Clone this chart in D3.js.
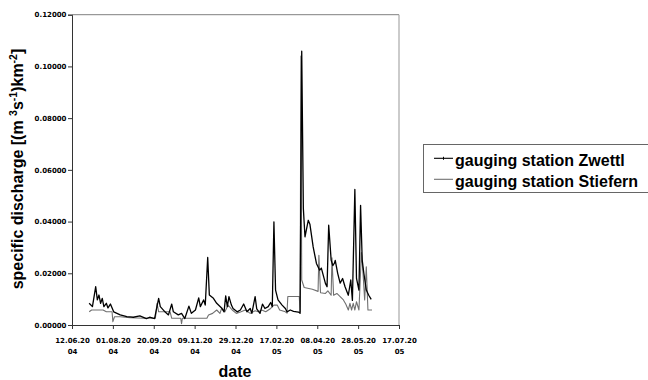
<!DOCTYPE html>
<html>
<head>
<meta charset="utf-8">
<script src="https://cdn.jsdelivr.net/npm/d3@7"></script>
<style>
  html, body { margin: 0; padding: 0; background: #fff; }
  svg { display: block; }
</style>
</head>
<body>
<svg id="chart" width="648" height="380"></svg>
<script>
// ---- data (day number counted from 12.06.2004, specific discharge m3 s-1 km-2) ----
const startDate = "2004-06-12";
const endDate = "2005-07-17";

const zwettlDay = [21,25,29,31,33,35,37,39,42,44,47,51,59,67,75,83,91,95,101,106,108,114,118,122,124,130,134,138,143,146,151,155,157,161,163,166,168,173,177,183,186,188,190,192,195,197,202,206,210,214,218,220,224,226,230,233,236,240,243,245,247,249,252,257,261,263,267,271,277,279,281,283,285,289,291,295,299,303,305,310,312,314,317,319,321,322,325,328,331,334,338,341,343,346,348,351,353,355,357,360,363,366];
const zwettlQ = [0.0084,0.0071,0.0148,0.0097,0.0116,0.0084,0.0103,0.0071,0.0084,0.0066,0.0081,0.0051,0.0039,0.0032,0.0030,0.0035,0.0025,0.0030,0.0025,0.0103,0.0071,0.0050,0.0039,0.0081,0.0051,0.0039,0.0045,0.0025,0.0073,0.0045,0.0058,0.0105,0.0071,0.0097,0.0077,0.0261,0.0116,0.0103,0.0084,0.0066,0.0051,0.0113,0.0071,0.0110,0.0077,0.0064,0.0051,0.0058,0.0081,0.0051,0.0064,0.0045,0.0110,0.0062,0.0045,0.0081,0.0064,0.0071,0.0087,0.0071,0.0399,0.0135,0.0097,0.0077,0.0064,0.0051,0.0058,0.0053,0.0050,0.0045,0.1059,0.0450,0.0341,0.0405,0.0390,0.0302,0.0238,0.0212,0.0220,0.0161,0.0148,0.0386,0.0251,0.0230,0.0239,0.0250,0.0200,0.0162,0.0180,0.0148,0.0115,0.0174,0.0095,0.0524,0.0180,0.0135,0.0463,0.0251,0.0200,0.0135,0.0115,0.0099];

const stiefernDay = [21,24,38,42,49,50,52,59,71,89,102,104,106,120,122,133,134,135,165,167,172,177,181,183,187,191,196,201,206,212,218,224,228,232,237,243,247,251,254,261,263,264,278,279,280,281,284,294,301,302,304,310,313,317,318,320,324,328,332,335,338,340,342,344,346,348,351,354,356,358,360,362,367];
const stiefernQ = [0.0051,0.0058,0.0058,0.0051,0.0051,0.0013,0.0032,0.0032,0.0028,0.0026,0.0026,0.0084,0.0051,0.0051,0.0026,0.0026,0.0005,0.0026,0.0026,0.0039,0.0045,0.0058,0.0045,0.0064,0.0051,0.0077,0.0058,0.0045,0.0050,0.0058,0.0045,0.0055,0.0051,0.0058,0.0051,0.0064,0.0077,0.0077,0.0058,0.0051,0.0046,0.0110,0.0110,0.0050,0.1040,0.0174,0.0145,0.0138,0.0130,0.0270,0.0125,0.0122,0.0132,0.0115,0.0260,0.0115,0.0122,0.0110,0.0097,0.0080,0.0058,0.0084,0.0058,0.0084,0.0058,0.0090,0.0058,0.0280,0.0200,0.0097,0.0225,0.0058,0.0058];

const xTickDates = ["2004-06-12","2004-08-01","2004-09-20","2004-11-09","2004-12-29","2005-02-17","2005-04-08","2005-05-28","2005-07-17"];
const yTicks = [0, 0.02, 0.04, 0.06, 0.08, 0.10, 0.12];
const seriesNames = ["gauging station Zwettl", "gauging station Stiefern"];
const seriesColors = ["#000000", "#707070"];

// ---- drawing ----
(function draw() {
const svg = d3.select("#chart");
const parse = d3.utcParse("%Y-%m-%d");
const t0 = parse(startDate);
const pLeft = 72, pRight = 399, pTop = 14.7, pBottom = 325;

const x = d3.scaleUtc().domain([t0, parse(endDate)]).range([pLeft, pRight]);
const y = d3.scaleLinear().domain([0, 0.12]).range([pBottom, pTop]);

const toPts = (days, vals) => days.map((d, i) => ({ date: d3.utcDay.offset(t0, d), v: vals[i] }));
const zwettl = toPts(zwettlDay, zwettlQ);
const stiefern = toPts(stiefernDay, stiefernQ);

// frame (top and right)
svg.append("line").attr("x1", pLeft).attr("x2", pRight).attr("y1", pTop).attr("y2", pTop)
  .attr("stroke", "#808080").attr("stroke-width", 1);
svg.append("line").attr("x1", pRight).attr("x2", pRight).attr("y1", pTop).attr("y2", pBottom)
  .attr("stroke", "#a8a8a8").attr("stroke-width", 1.2);

// series
const line = d3.line().x(d => x(d.date)).y(d => y(d.v));
svg.append("path").datum(stiefern).attr("d", line)
  .attr("fill", "none").attr("stroke", seriesColors[1]).attr("stroke-width", 1.1)
  .attr("stroke-linejoin", "round");
svg.append("path").datum(zwettl).attr("d", line)
  .attr("fill", "none").attr("stroke", seriesColors[0]).attr("stroke-width", 1.3)
  .attr("stroke-linejoin", "round");

// y axis
const yAxis = svg.append("g").attr("transform", `translate(${pLeft},0)`)
  .call(d3.axisLeft(y).tickValues(yTicks).tickFormat(d3.format(".5f")).tickSizeOuter(0).tickSize(4));
yAxis.select(".domain").attr("stroke", "#333");
yAxis.selectAll(".tick line").attr("stroke", "#333");
yAxis.selectAll("text").attr("font-family", "DejaVu Sans, sans-serif").attr("font-weight", "bold")
  .attr("font-size", 7).attr("fill", "#000").attr("x", -5.5);

// x axis
const fmt = d3.utcFormat("%d.%m.%Y");
const xAxis = svg.append("g").attr("transform", `translate(0,${pBottom})`)
  .call(d3.axisBottom(x).tickValues(xTickDates.map(parse)).tickFormat(() => "").tickSizeOuter(0).tickSize(4));
xAxis.select(".domain").attr("stroke", "#333");
xAxis.selectAll(".tick line").attr("stroke", "#333");
xAxis.selectAll(".tick text").each(function(d) {
  const s = fmt(d);
  const t = d3.select(this).text(null)
    .attr("font-family", "DejaVu Sans, sans-serif").attr("font-weight", "bold")
    .attr("font-size", 7).attr("fill", "#000").attr("y", 0).attr("dy", null);
  t.append("tspan").attr("x", 0).attr("y", 18).text(s.slice(0, 8));
  t.append("tspan").attr("x", 0).attr("y", 29).text(s.slice(8));
});

// axis titles
svg.append("text").attr("x", 235).attr("y", 377).attr("text-anchor", "middle")
  .attr("font-family", "Liberation Sans, Arial, sans-serif").attr("font-weight", "bold")
  .attr("font-size", 16).text("date");

const yt = svg.append("text").attr("transform", "translate(23,169) rotate(-90)")
  .attr("text-anchor", "middle")
  .attr("font-family", "Liberation Sans, Arial, sans-serif").attr("font-weight", "bold")
  .attr("font-size", 16);
yt.append("tspan").text("specific discharge [(m ");
yt.append("tspan").attr("dy", -6.5).attr("font-size", 10.5).text("3");
yt.append("tspan").attr("dy", 6.5).text("s");
yt.append("tspan").attr("dy", -6.5).attr("font-size", 10.5).text("-1");
yt.append("tspan").attr("dy", 6.5).text(")km");
yt.append("tspan").attr("dy", -6.5).attr("font-size", 10.5).text("-2");
yt.append("tspan").attr("dy", 6.5).text("]");

// legend
const lg = svg.append("g");
lg.append("rect").attr("x", 423.5).attr("y", 144.5).attr("width", 230).attr("height", 48)
  .attr("fill", "#fff").attr("stroke", "#666").attr("stroke-width", 1);
seriesNames.forEach((name, i) => {
  const ly = 158.3 + i * 21;
  lg.append("line").attr("x1", 434).attr("x2", 453).attr("y1", ly).attr("y2", ly)
    .attr("stroke", seriesColors[i]).attr("stroke-width", 1.1);
  if (i === 0) {
    lg.append("line").attr("x1", 443.5).attr("x2", 443.5).attr("y1", ly - 1.5).attr("y2", ly + 1.5)
      .attr("stroke", seriesColors[i]).attr("stroke-width", 1);
  }
  lg.append("text").attr("x", 455).attr("y", ly + 7.7)
    .attr("font-family", "Liberation Sans, Arial, sans-serif").attr("font-weight", "bold")
    .attr("font-size", 16).attr("fill", "#000").text(name);
});
})();
</script>
</body>
</html>
